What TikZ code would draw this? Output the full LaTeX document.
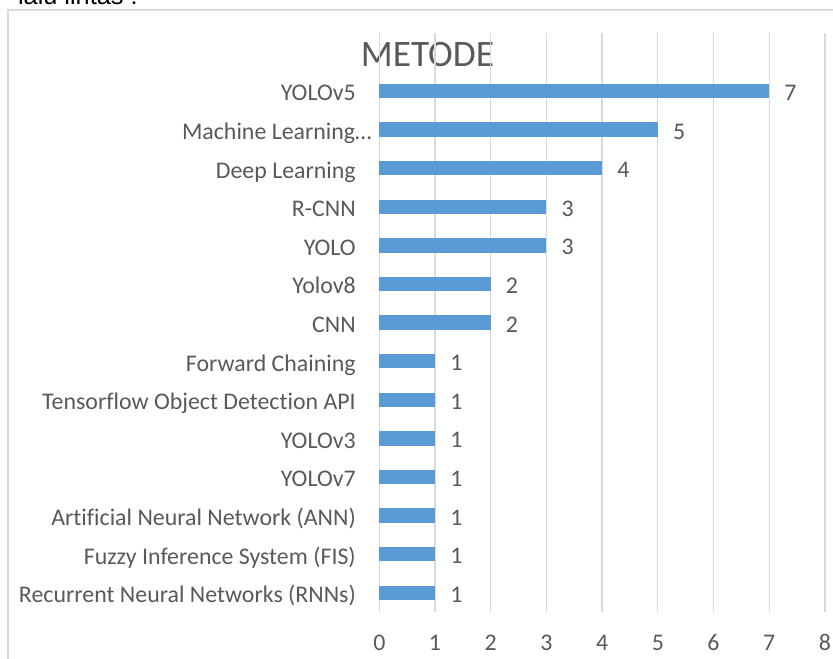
\documentclass[tikz,border=0pt]{standalone}
\usepackage{fontspec}
\setmainfont{Carlito}[Ligatures=NoCommon]
\newfontfamily\introfont{Liberation Sans}
\usetikzlibrary{positioning}
\definecolor{barblue}{HTML}{5B9BD5}
\definecolor{gridgray}{HTML}{D9D9D9}
\definecolor{textgray}{HTML}{595959}
\tikzset{
  axislabel/.style={font=\fontsize{17.9}{21}\selectfont,text=textgray,inner sep=0},
  gridline/.style={draw=gridgray,line width=1pt},
}

\begin{document}
\begin{tikzpicture}[x=0.75pt,y=-0.75pt]
\useasboundingbox (0,0) rectangle (833,659);
\begin{scope}
\clip (0,0) rectangle (833,659);
\node[font=\introfont\fontsize{19}{22}\selectfont,anchor=base east,inner sep=0] (intro) at (138,4.5) {lalu lintas :};
\draw[gridline] (8,680) -- (8,10) -- (850,10);
\end{scope}

\node[font=\fontsize{28}{32}\selectfont,text=textgray,anchor=base,inner sep=0] (title) at (427.5,67) {METODE};

\foreach \v in {0,...,8} {
  \draw[gridline] (379.3+55.7*\v,33) -- (379.3+55.7*\v,612);
  \node[axislabel,anchor=base] (tick\v) at (379.3+55.7*\v,651) {\v};
}

\foreach \name/\val/\xr [count=\i from 0] in {
  YOLOv5/7/356,
  Machine Learning…/5/372,
  Deep Learning/4/356,
  R-CNN/3/356,
  YOLO/3/356,
  Yolov8/2/356,
  CNN/2/356,
  Forward Chaining/1/356,
  Tensorflow Object Detection API/1/356,
  YOLOv3/1/356,
  YOLOv7/1/356,
  Artificial Neural Network (ANN)/1/356,
  Fuzzy Inference System (FIS)/1/356,
  Recurrent Neural Networks (RNNs)/1/356} {
  \pgfmathsetmacro{\yc}{91+38.6*\i}
  \fill[barblue] (379.3,\yc-7.2) rectangle (379.3+55.7*\val,\yc+7.2);
  \node[axislabel,anchor=base east] (cat\i) at (\xr,\yc+10) {\name};
  \node[axislabel,anchor=base west] (val\i) at (379.3+55.7*\val+15,\yc+9.5) {\val};
}

\end{tikzpicture}
\end{document}
